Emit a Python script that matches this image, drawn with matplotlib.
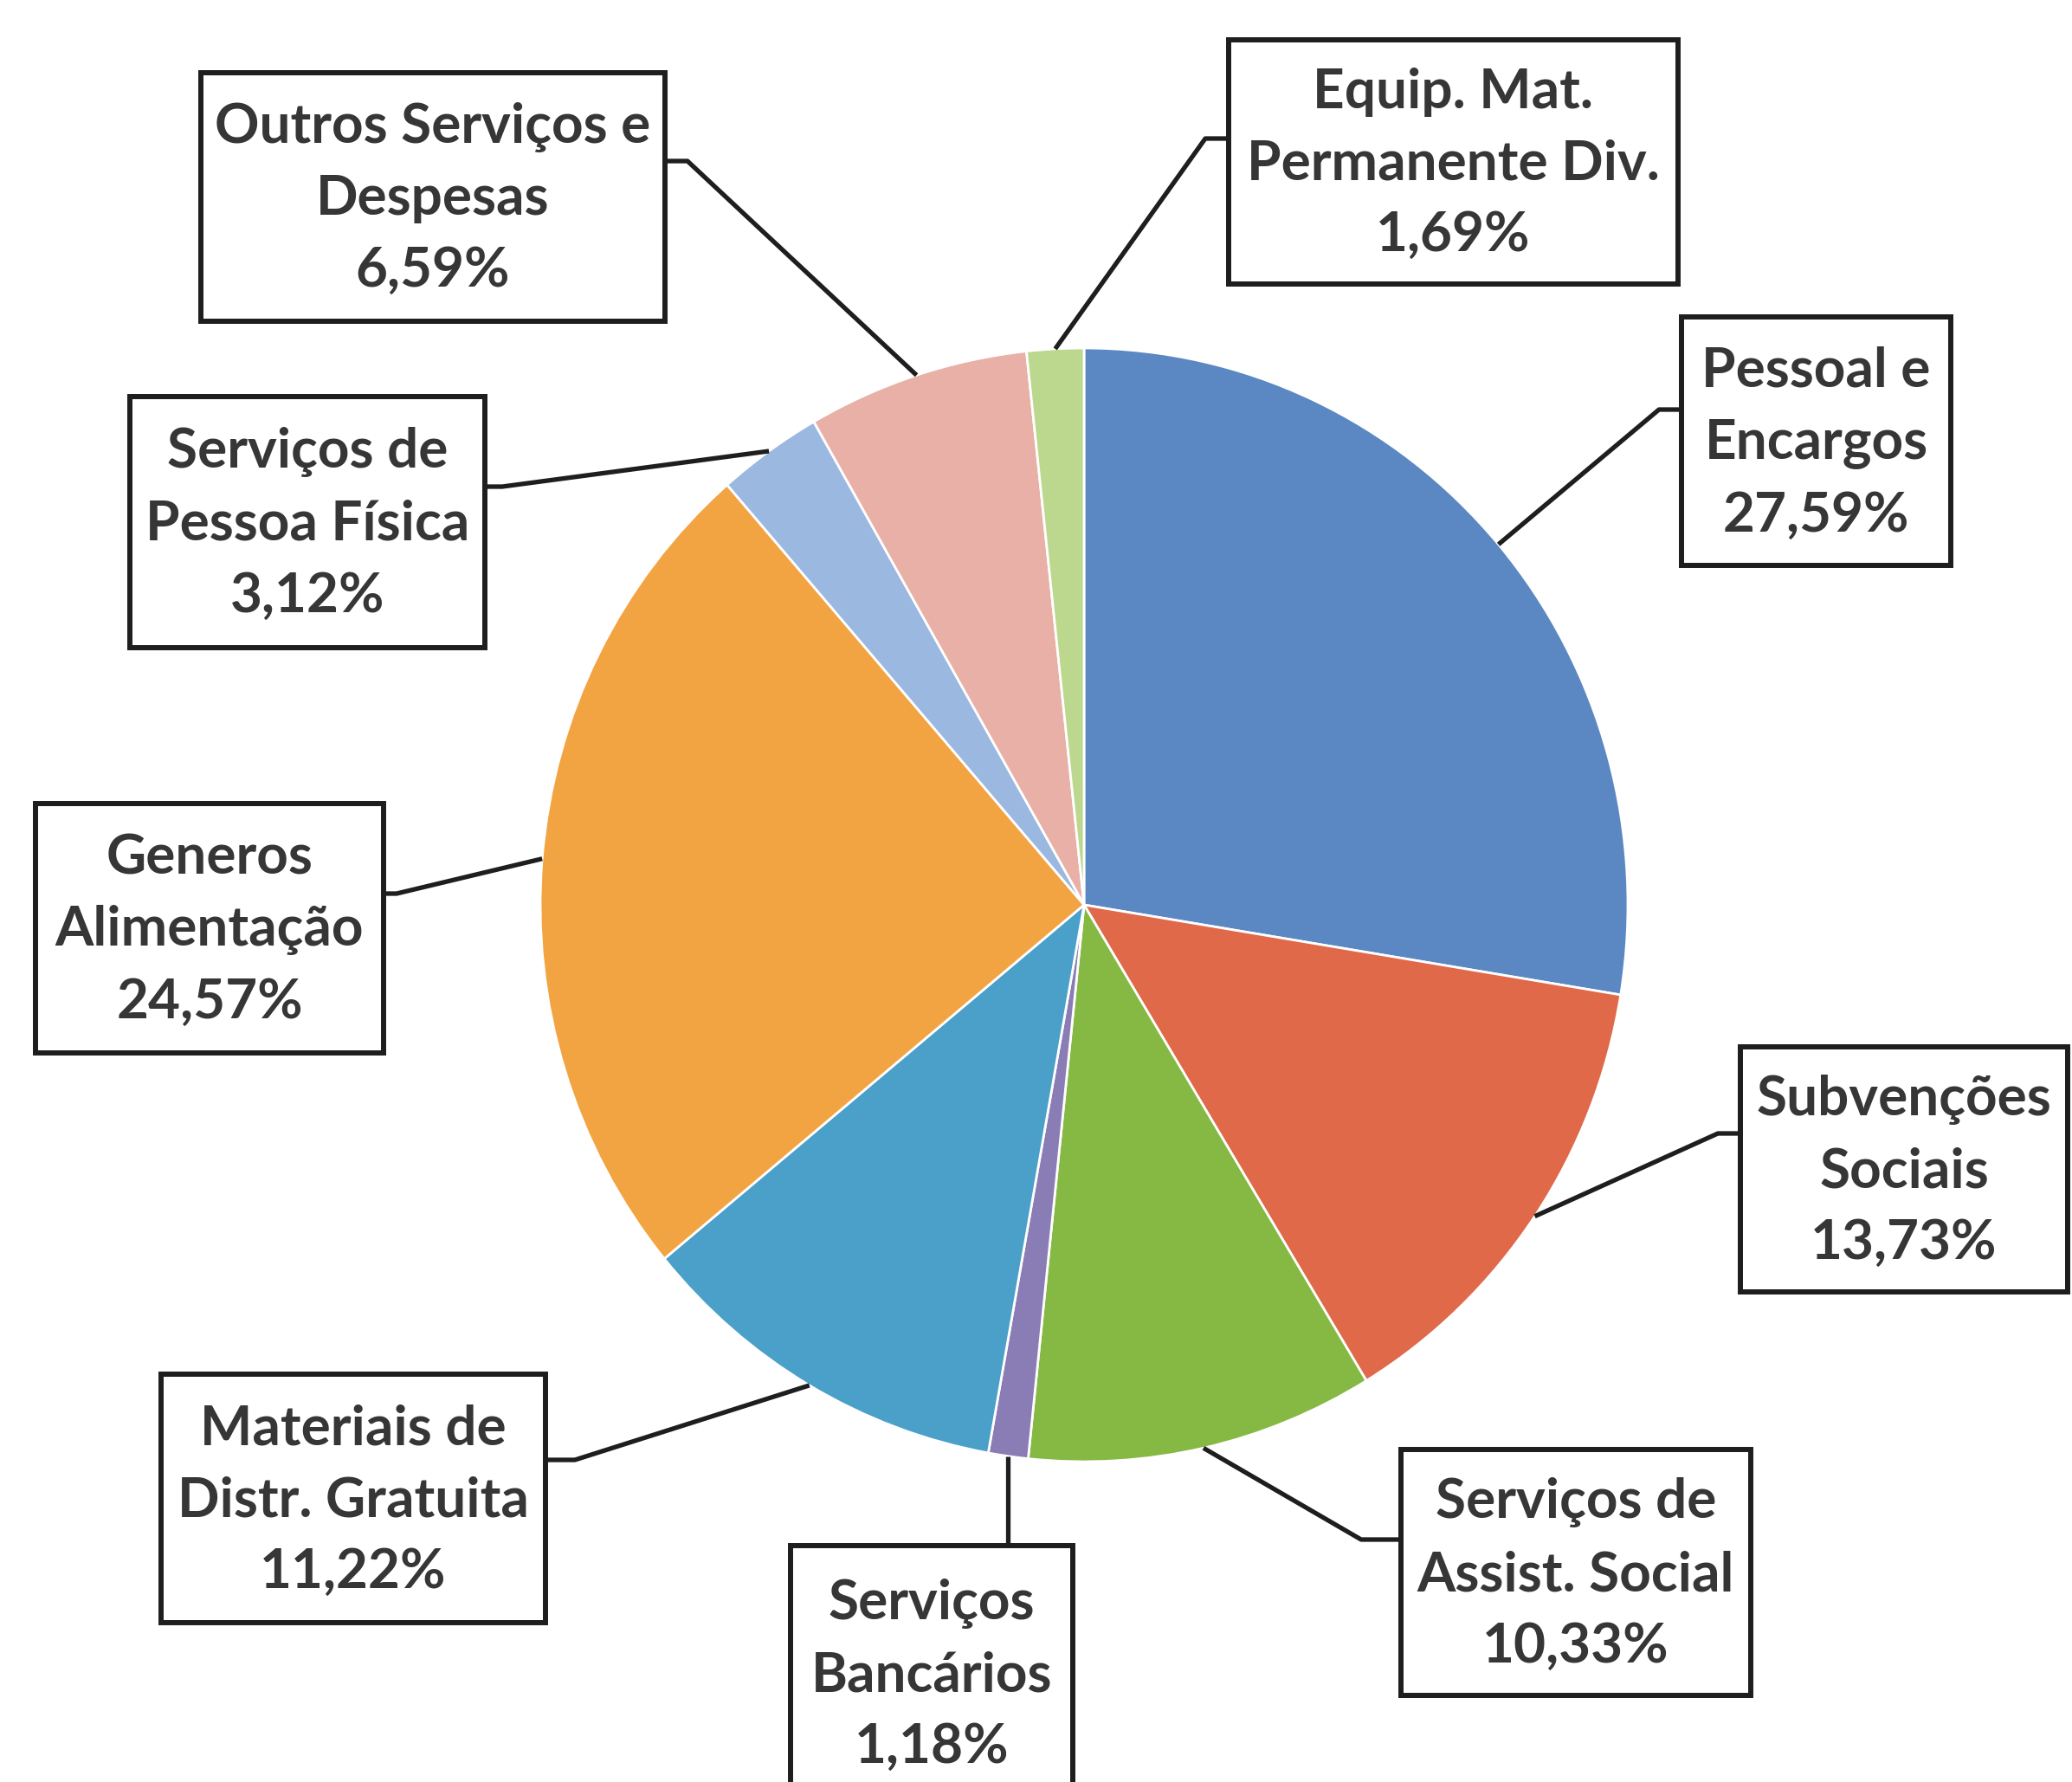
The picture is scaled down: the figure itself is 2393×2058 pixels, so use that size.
import matplotlib
matplotlib.use('Agg')
import matplotlib.pyplot as plt
from matplotlib.patches import Rectangle
from matplotlib.transforms import Affine2D
import numpy as np

W, H = 2393, 2058

# dados do grafico
categorias = ["Pessoal e\nEncargos", "Subvenções\nSociais", "Serviços de\nAssist. Social",
              "Serviços\nBancários", "Materiais de\nDistr. Gratuita", "Generos\nAlimentação",
              "Serviços de\nPessoa Física", "Outros Serviços e\nDespesas", "Equip. Mat.\nPermanente Div."]
percentuais = [27.59, 13.73, 10.33, 1.18, 11.22, 24.57, 3.12, 6.59, 1.69]
rotulos_pct = ["27,59%", "13,73%", "10,33%", "1,18%", "11,22%", "24,57%", "3,12%", "6,59%", "1,69%"]
cores = ["#5b88c2", "#e0694a", "#86b943", "#8a7cb4", "#4aa0c8",
         "#f2a443", "#9bb8e0", "#e8b0a6", "#bcd88e"]

# caixas dos rotulos: left, top, right, bottom (pixels, y a partir do topo)
caixas = [(1942, 366, 2253, 653), (2010, 1209, 2388, 1492), (1618, 1674, 2022, 1958),
          (913, 1785, 1239, 2080), (186, 1587, 630, 1874), (41, 928, 443, 1216),
          (150, 458, 560, 748), (232, 84, 768, 371), (1419, 46, 1938, 328)]
# lado onde entra a linha, altura da linha na caixa, tamanho do cotovelo
lados = ["left", "left", "left", "top", "right", "right", "right", "right", "left"]
ancora_y = [473, 1309, 1778, None, 1686, 1032, 562, 186, 160]
cotovelo = [26, 26, 46, 0, 34, 15, 20, 26, 27]

cx, cy, raio = 1252, 1045, 628
esticar = 643 / 628.0   # o scan deixou a pizza um pouco oval

def ty(y):
    return H - y

fig = plt.figure(figsize=(W / 100, H / 100), dpi=100)
ax = fig.add_axes([0, 0, 1, 1])
ax.set_xlim(0, W)
ax.set_ylim(0, H)
ax.set_aspect('equal')
ax.axis('off')

wedges, _ = ax.pie(percentuais, colors=cores, startangle=90, counterclock=False,
                   center=(cx, ty(cy)), radius=raio,
                   wedgeprops=dict(edgecolor='white', linewidth=2))
oval = Affine2D().translate(-cx, -ty(cy)).scale(1, esticar).translate(cx, ty(cy))
for w in wedges:
    w.set_transform(oval + ax.transData)
ax.set_xlim(0, W)
ax.set_ylim(0, H)

fonte = ['Liberation Sans Narrow', 'Lato', 'DejaVu Sans']

for k in range(0, len(categorias)):
    l, t, r, b = caixas[k]
    ax.add_patch(Rectangle((l, ty(b)), r - l, b - t, facecolor='white',
                           edgecolor='#1e1e1e', linewidth=4.3, zorder=4))
    ax.text((l + r) / 2, ty((t + b) / 2 + 2), categorias[k] + "\n" + rotulos_pct[k],
            ha='center', va='center', fontsize=46, fontweight='bold', family=fonte,
            color='#363636', linespacing=1.55, zorder=5)

    w = wedges[k]
    th = np.deg2rad((w.theta1 + w.theta2) / 2)
    px = cx + raio * np.cos(th)
    py = ty(cy) + raio * esticar * np.sin(th)
    if lados[k] == "left":
        xs = [px, l - cotovelo[k], l]
        ys = [py, ty(ancora_y[k]), ty(ancora_y[k])]
    elif lados[k] == "right":
        xs = [px, r + cotovelo[k], r]
        ys = [py, ty(ancora_y[k]), ty(ancora_y[k])]
    else:
        xs = [px, px]
        ys = [py, ty(t)]
    ax.plot(xs, ys, color='#1e1e1e', linewidth=3.8, zorder=3, solid_capstyle='butt')

plt.savefig('out.png', dpi=100, facecolor='white')
